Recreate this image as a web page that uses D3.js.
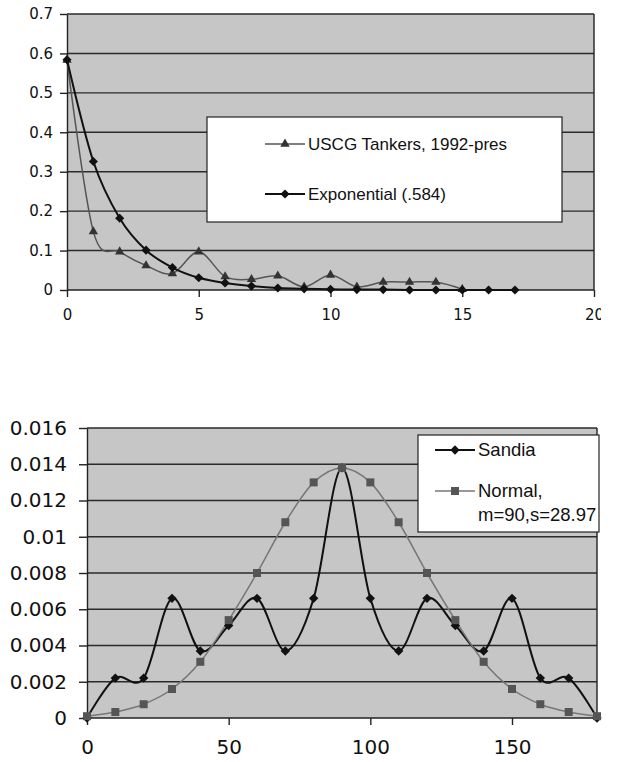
<!DOCTYPE html>
<meta charset="utf-8">
<style>
    html, body {
        margin: 0;
        background: white;
    }

    .plot-bg {
        fill: #c6c6c6;
    }

    .grid line {
        stroke: #2a2a2a;
        stroke-width: 1.4px;
    }

    .axis path, .axis line {
        stroke: #222;
        stroke-width: 1.4px;
    }

    .axis text {
        font-family: "DejaVu Sans", sans-serif;
        fill: #111;
    }

    .legend-box {
        fill: white;
        stroke: #222;
        stroke-width: 1.2px;
    }

    .legend text {
        font-family: "Liberation Sans", Arial, sans-serif;
        fill: #111;
    }
</style>
<svg id="chart" width="617" height="762"></svg>
<script src="https://d3js.org/d3.v7.min.js"></script>
<script>
    // top chart data: failures per year
    var topX = [0, 1, 2, 3, 4, 5, 6, 7, 8, 9, 10, 11, 12, 13, 14, 15, 16, 17];
    var uscgValues = [0.583, 0.148, 0.097, 0.062, 0.042, 0.097, 0.034, 0.027, 0.036, 0.008,
                      0.038, 0.008, 0.02, 0.02, 0.02, 0.002];
    var expValues = [0.584, 0.326, 0.182, 0.101, 0.057, 0.031, 0.018, 0.01, 0.005, 0.003,
                     0.002, 0.001, 0.001, 0, 0, 0, 0, 0];
    var topYTicks = [0, 0.1, 0.2, 0.3, 0.4, 0.5, 0.6, 0.7];
    var topXTicks = [0, 5, 10, 15, 20];

    // bottom chart data
    var botX = [0, 10, 20, 30, 40, 50, 60, 70, 80, 90, 100, 110, 120, 130, 140, 150, 160, 170, 180];
    var sandiaValues = [0, 0.0022, 0.0022, 0.0066, 0.0037, 0.0051, 0.0066, 0.0037, 0.0066, 0.0138,
                        0.0066, 0.0037, 0.0066, 0.0051, 0.0037, 0.0066, 0.0022, 0.0022, 0];
    var normalValues = [0.0001, 0.00033, 0.00076, 0.0016, 0.0031, 0.0054, 0.008, 0.0108, 0.013, 0.0138,
                        0.013, 0.0108, 0.008, 0.0054, 0.0031, 0.0016, 0.00076, 0.00033, 0.0001];
    var botYTicks = [0, 0.002, 0.004, 0.006, 0.008, 0.01, 0.012, 0.014, 0.016];
    var botXTicks = [0, 50, 100, 150];

    var svg = d3.select("#chart");

    function fmt(d) { return d === 0 ? "0" : String(+d.toFixed(3)); }

    function diamond(size) {
        return d3.symbol().type(d3.symbolSquare).size(size)();
    }

    // draws one panel: background, grid, axes, series, legend
    function drawPanel(opt) {
        var x = d3.scaleLinear().domain(opt.xDomain).range([opt.left, opt.right]);
        var y = d3.scaleLinear().domain(opt.yDomain).range([opt.bottom, opt.top]);

        var g = svg.append("g");

        g.append("rect")
            .attr("class", "plot-bg")
            .attr("x", opt.left).attr("y", opt.top)
            .attr("width", opt.right - opt.left)
            .attr("height", opt.bottom - opt.top);

        // horizontal grid lines
        g.append("g")
            .attr("class", "grid")
            .selectAll("line")
            .data(opt.yTicks.slice(1))
            .enter().append("line")
            .attr("x1", opt.left).attr("x2", opt.right)
            .attr("y1", function(d) { return y(d); })
            .attr("y2", function(d) { return y(d); });

        // right border
        g.append("line")
            .attr("x1", opt.right).attr("x2", opt.right)
            .attr("y1", opt.top).attr("y2", opt.bottom)
            .attr("stroke", "#222").attr("stroke-width", 1.4);

        var yAxis = g.append("g")
            .attr("class", "axis")
            .attr("transform", "translate(" + opt.left + ",0)")
            .call(d3.axisLeft(y).tickValues(opt.yTicks).tickFormat(fmt)
                .tickSize(opt.yTickSize).tickPadding(opt.yPad).tickSizeOuter(0));
        yAxis.selectAll("text").style("font-size", opt.fontSize + "px");

        var xAxisG = g.append("g")
            .attr("class", "axis")
            .attr("transform", "translate(0," + opt.bottom + ")");
        if (opt.clipId) {
            svg.append("clipPath").attr("id", opt.clipId)
                .append("rect").attr("x", 0).attr("y", -20)
                .attr("width", opt.clipRight).attr("height", 80);
            xAxisG.attr("clip-path", "url(#" + opt.clipId + ")");
        }
        xAxisG.call(d3.axisBottom(x).tickValues(opt.xTicks).tickFormat(d3.format("d"))
                .tickSize(7).tickPadding(opt.xPad).tickSizeOuter(0));
        xAxisG.selectAll("text").style("font-size", opt.xFontSize + "px");
        // x axis line across the full plot width
        xAxisG.select(".domain").attr("d", "M" + opt.left + ",0H" + opt.right);

        // series
        opt.series.forEach(function(s) {
            var pts = s.values.map(function(v, i) { return [opt.xs[i], v]; });
            var line = d3.line()
                .x(function(d) { return x(d[0]); })
                .y(function(d) { return y(d[1]); })
                .curve(d3.curveCatmullRom.alpha(0));
            g.append("path")
                .datum(pts)
                .attr("fill", "none")
                .attr("stroke", s.color)
                .attr("stroke-width", s.width)
                .attr("d", line);
        });
        opt.series.forEach(function(s) {
            var pts = s.values.map(function(v, i) { return [opt.xs[i], v]; });
            g.append("g")
                .selectAll("path")
                .data(pts)
                .enter().append("path")
                .attr("d", s.symbol)
                .attr("fill", s.markerColor)
                .attr("transform", function(d) {
                    return "translate(" + x(d[0]) + "," + y(d[1]) + ")" + (s.rotate ? " rotate(45)" : "");
                });
        });

        // legend
        var lg = g.append("g").attr("class", "legend");
        lg.append("rect")
            .attr("class", "legend-box")
            .attr("x", opt.legend.x).attr("y", opt.legend.y)
            .attr("width", opt.legend.w).attr("height", opt.legend.h);
        opt.series.forEach(function(s, i) {
            var ly = opt.legend.rows[i];
            var lx = opt.legend.lineX;
            lg.append("line")
                .attr("x1", lx).attr("x2", lx + opt.legend.lineW)
                .attr("y1", ly).attr("y2", ly)
                .attr("stroke", s.color).attr("stroke-width", s.width);
            lg.append("path")
                .attr("d", s.symbol)
                .attr("fill", s.markerColor)
                .attr("transform", "translate(" + (lx + opt.legend.lineW / 2) + "," + ly + ")" + (s.rotate ? " rotate(45)" : ""));
            var t = lg.append("text")
                .attr("y", ly)
                .style("font-size", opt.legend.fontSize + "px");
            s.label.forEach(function(part, j) {
                t.append("tspan")
                    .attr("x", lx + opt.legend.lineW + 3)
                    .attr("dy", j === 0 ? "0.35em" : "1.25em")
                    .text(part);
            });
        });
    }

    drawPanel({
        left: 67, right: 594, top: 14, bottom: 290,
        xDomain: [0, 20], yDomain: [0, 0.7],
        xs: topX, yTicks: topYTicks, xTicks: topXTicks,
        yTickSize: 7, yPad: 7, xPad: 12,
        fontSize: 15, xFontSize: 15,
        clipId: "clipTop", clipRight: 601,
        series: [
            { label: ["USCG Tankers, 1992-pres"], values: uscgValues, color: "#555", width: 1.5,
              markerColor: "#333", symbol: d3.symbol().type(d3.symbolTriangle).size(38)() },
            { label: ["Exponential (.584)"], values: expValues, color: "#111", width: 2,
              markerColor: "#111", symbol: diamond(42), rotate: true }
        ],
        legend: { x: 207, y: 117, w: 355, h: 105, rows: [144, 194], lineX: 265, lineW: 40, fontSize: 17 }
    });

    drawPanel({
        left: 87, right: 597, top: 428, bottom: 718,
        xDomain: [0, 180], yDomain: [0, 0.016],
        xs: botX, yTicks: botYTicks, xTicks: botXTicks,
        yTickSize: 8, yPad: 12, xPad: 15,
        fontSize: 20, xFontSize: 20,
        series: [
            { label: ["Sandia"], values: sandiaValues, color: "#111", width: 2,
              markerColor: "#111", symbol: diamond(44), rotate: true },
            { label: ["Normal,", "m=90,s=28.97"], values: normalValues, color: "#777", width: 1.5,
              markerColor: "#555", symbol: d3.symbol().type(d3.symbolSquare).size(64)() }
        ],
        legend: { x: 418, y: 435, w: 181, h: 97, rows: [450, 491], lineX: 435, lineW: 40, fontSize: 18.5 }
    });
</script>
